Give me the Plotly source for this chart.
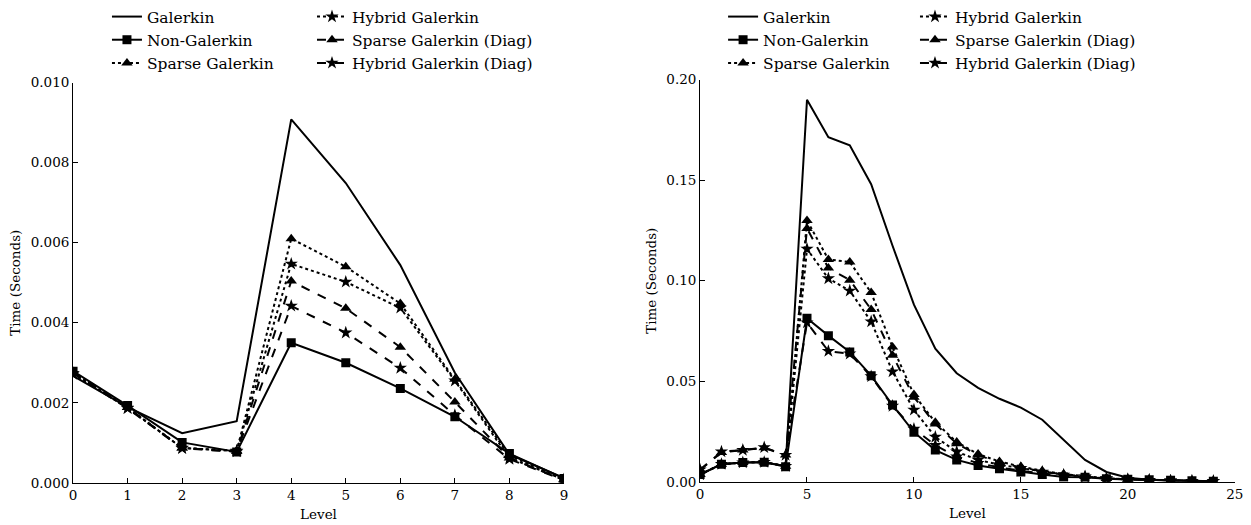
import plotly.graph_objects as go
from plotly.subplots import make_subplots

# ---- data: left panel (levels 0..9) ----
levels_a = list(range(10))
galerkin_a = [0.00267, 0.00189, 0.00124, 0.00154, 0.00908, 0.00749, 0.00544, 0.00275, 0.00071, 0.00012]
nongal_a = [0.00279, 0.00193, 0.00101, 0.00077, 0.00350, 0.00300, 0.00236, 0.00165, 0.00073, 0.00011]
sparse_a = [0.00275, 0.00188, 0.00087, 0.00080, 0.00610, 0.00540, 0.00448, 0.00259, 0.00068, 0.00008]
hybrid_a = [0.00272, 0.00187, 0.00087, 0.00080, 0.00547, 0.00502, 0.00437, 0.00255, 0.00062, 0.00008]
sparse_diag_a = [0.00276, 0.00188, 0.00087, 0.00078, 0.00504, 0.00436, 0.00339, 0.00202, 0.00062, 0.00007]
hybrid_diag_a = [0.00274, 0.00186, 0.00086, 0.00078, 0.00442, 0.00375, 0.00287, 0.00169, 0.00059, 0.00007]

# ---- data: right panel (levels 0..24) ----
levels_b = list(range(25))
galerkin_b = [0.0036, 0.0088, 0.0096, 0.0098, 0.0078, 0.1900, 0.1714, 0.1673, 0.1480, 0.1174,
              0.0881, 0.0662, 0.0540, 0.0467, 0.0413, 0.0369, 0.0309, 0.0207, 0.0109, 0.0049,
              0.0020, 0.0010, 0.0005, 0.0003, 0.0002]
nongal_b = [0.0036, 0.0088, 0.0096, 0.0098, 0.0075, 0.0813, 0.0727, 0.0646, 0.0528, 0.0382,
            0.0247, 0.0158, 0.0109, 0.0081, 0.0065, 0.0049, 0.0036, 0.0024, 0.0023, 0.0016,
            0.0013, 0.0011, 0.0008, 0.0005, 0.0003]
sparse_b = [0.0036, 0.0088, 0.0096, 0.0098, 0.0078, 0.1300, 0.1106, 0.1093, 0.0941, 0.0670,
            0.0434, 0.0296, 0.0198, 0.0138, 0.0101, 0.0076, 0.0055, 0.0039, 0.0028, 0.0018,
            0.0013, 0.0010, 0.0007, 0.0004, 0.0003]
hybrid_b = [0.0036, 0.0088, 0.0096, 0.0098, 0.0078, 0.1158, 0.1011, 0.0950, 0.0797, 0.0548,
            0.0358, 0.0223, 0.0150, 0.0109, 0.0085, 0.0068, 0.0049, 0.0035, 0.0026, 0.0017,
            0.0012, 0.0009, 0.0006, 0.0004, 0.0003]
sparse_diag_b = [0.0060, 0.0146, 0.0158, 0.0169, 0.0133, 0.1260, 0.1063, 0.1003, 0.0857, 0.0629,
                 0.0421, 0.0288, 0.0190, 0.0133, 0.0096, 0.0072, 0.0052, 0.0037, 0.0027, 0.0017,
                 0.0012, 0.0009, 0.0006, 0.0004, 0.0003]
hybrid_diag_b = [0.0060, 0.0150, 0.0158, 0.0171, 0.0133, 0.0792, 0.0650, 0.0637, 0.0524, 0.0377,
                 0.0263, 0.0182, 0.0125, 0.0093, 0.0072, 0.0055, 0.0042, 0.0030, 0.0024, 0.0016,
                 0.0012, 0.0009, 0.0006, 0.0004, 0.0003]

FONT = "DejaVu Serif"
TICK_SIZE = 13.5
LEGEND_SIZE = 15.5

# name, line dash, marker symbol, marker size, legend column
styles = [
    ("Galerkin", "solid", None, 0, 0),
    ("Non-Galerkin", "solid", "square", 9, 0),
    ("Sparse Galerkin", "dot", "triangle-up", 10, 0),
    ("Hybrid Galerkin", "dot", "star", 10, 1),
    ("Sparse Galerkin (Diag)", "dash", "triangle-up", 10, 1),
    ("Hybrid Galerkin (Diag)", "dash", "star", 10, 1),
]
series_a = [galerkin_a, nongal_a, sparse_a, hybrid_a, sparse_diag_a, hybrid_diag_a]
series_b = [galerkin_b, nongal_b, sparse_b, hybrid_b, sparse_diag_b, hybrid_diag_b]

fig = make_subplots(rows=1, cols=2)

def add_panel(col, xs, series, legends):
    for (name, dash, sym, msize, lcol), ys in zip(styles, series):
        mode = "lines" if sym is None else "lines+markers"
        kw = {}
        if sym is not None:
            kw["marker"] = dict(symbol=sym, size=msize, color="black")
        fig.add_trace(go.Scatter(
            x=xs, y=ys, name=name, mode=mode,
            line=dict(color="black", width=2, dash=dash),
            legend=legends[lcol], **kw), row=1, col=col)

add_panel(1, levels_a, series_a, ["legend", "legend2"])
add_panel(2, levels_b, series_b, ["legend3", "legend4"])

axis_common = dict(showline=True, linecolor="black", linewidth=1, mirror=False,
                   ticks="inside", ticklen=5, tickcolor="black", showgrid=False,
                   zeroline=False, automargin=False,
                   tickfont=dict(family=FONT, size=TICK_SIZE, color="black"))

fig.update_xaxes(axis_common)
fig.update_yaxes(axis_common)

title_font = dict(family=FONT, size=TICK_SIZE, color="black")
fig.update_layout(
    xaxis=dict(domain=[0.0584, 0.4508], range=[0, 9], dtick=1,
               title=dict(text="Level", font=title_font, standoff=7)),
    yaxis=dict(domain=[0.0819, 0.859], range=[0, 0.010], dtick=0.002, tickformat=".3f",
               title=dict(text="Time (Seconds)", font=title_font, standoff=6)),
    xaxis2=dict(domain=[0.5596, 0.987], range=[0, 25], dtick=5,
                title=dict(text="Level", font=title_font, standoff=7)),
    yaxis2=dict(domain=[0.0838, 0.8648], range=[0, 0.20], dtick=0.05, tickformat=".2f",
                title=dict(text="Time (Seconds)", font=title_font, standoff=6)),
)

leg_common = dict(yanchor="top", y=1.02, xanchor="left", bgcolor="rgba(0,0,0,0)",
                  font=dict(family=FONT, size=LEGEND_SIZE, color="black"), tracegroupgap=0,
                  orientation="v")
fig.update_layout(
    legend=dict(leg_common, x=0.0855),
    legend2=dict(leg_common, x=0.2494),
    legend3=dict(leg_common, x=0.578),
    legend4=dict(leg_common, x=0.7314),
)

fig.update_layout(
    width=1251, height=525,
    margin=dict(l=0, r=0, t=0, b=0),
    paper_bgcolor="white", plot_bgcolor="white",
    font=dict(family=FONT, color="black"),
)

fig.write_html("out.html")
